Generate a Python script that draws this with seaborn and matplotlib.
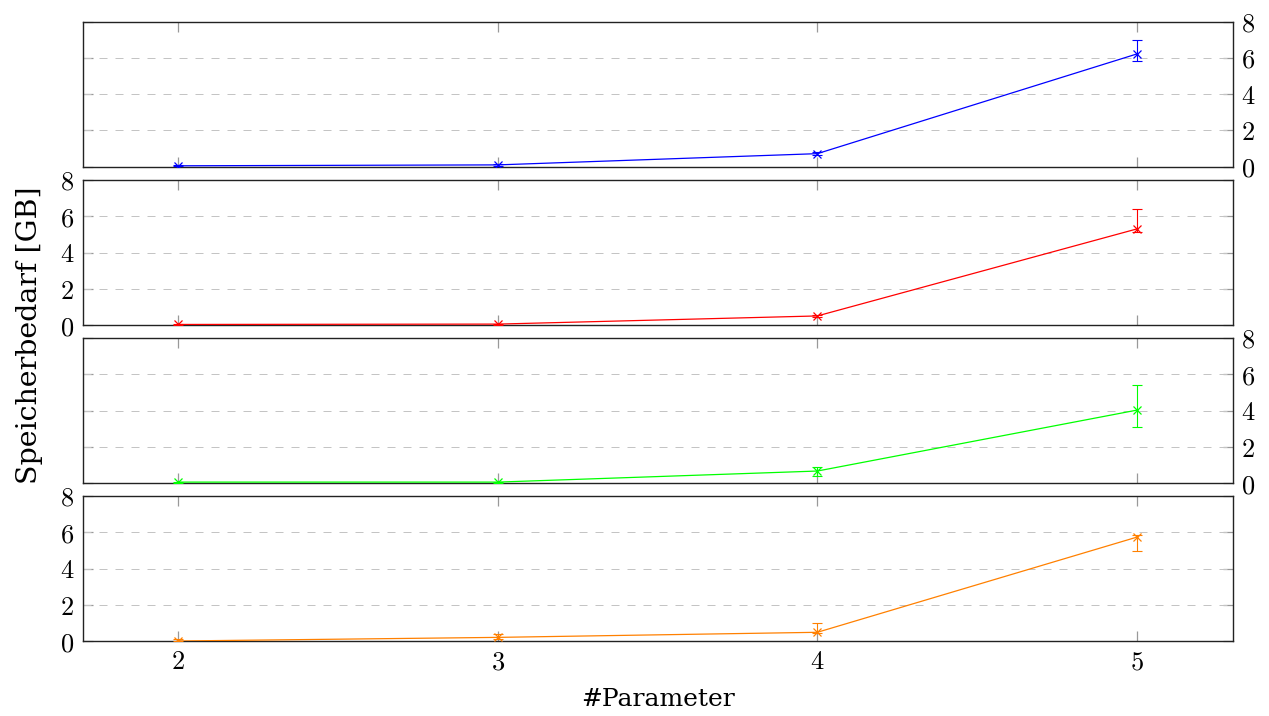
import matplotlib
matplotlib.use("Agg")
import matplotlib.pyplot as plt
from matplotlib.ticker import FuncFormatter, FixedLocator
import numpy as np
import pandas as pd
import seaborn as sns

sns.set_theme(style="white")
plt.rcParams["mathtext.fontset"] = "cm"
plt.rcParams["font.family"] = ["DejaVu Serif"]
plt.rcParams["text.color"] = "black"
plt.rcParams["xtick.labelcolor"] = "black"
plt.rcParams["ytick.labelcolor"] = "black"

# Number of parameters on the x axis
params = [2, 3, 4, 5]

# Memory demand in GB per configuration (mean, lower / upper deviation)
blue_mean = [0.05, 0.10, 0.72, 6.22]
blue_lo = [0.03, 0.05, 0.10, 0.40]
blue_hi = [0.03, 0.05, 0.10, 0.78]

red_mean = [0.03, 0.05, 0.50, 5.30]
red_lo = [0.02, 0.03, 0.05, 0.18]
red_hi = [0.02, 0.03, 0.05, 1.09]

green_mean = [0.05, 0.05, 0.66, 4.02]
green_lo = [0.03, 0.03, 0.30, 0.94]
green_hi = [0.03, 0.03, 0.20, 1.39]

orange_mean = [0.00, 0.20, 0.48, 5.73]
orange_lo = [0.00, 0.10, 0.05, 0.77]
orange_hi = [0.10, 0.20, 0.53, 0.11]

y_ticks = [0, 2, 4, 6, 8]

series = [
    (blue_mean, blue_lo, blue_hi, "#0000ff", "right"),
    (red_mean, red_lo, red_hi, "#ff0000", "left"),
    (green_mean, green_lo, green_hi, "#00ff00", "right"),
    (orange_mean, orange_lo, orange_hi, "#ff8000", "left"),
]

W, H = 1269, 716
fig = plt.figure(figsize=(W / 100, H / 100), dpi=100)

left_px, right_px = 82.5, 1232.7
tops = [21.7, 180.0, 338.0, 496.0]
panel_h = 145.0

fmt = FuncFormatter(lambda v, p: f"${v:g}$")
axes = []
for i, (mean, lo, hi, color, side) in enumerate(series):
    top = tops[i]
    ax = fig.add_axes([left_px / W, 1 - (top + panel_h) / H,
                       (right_px - left_px) / W, panel_h / H])
    axes.append(ax)
    df = pd.DataFrame({"param": params, "mem": mean})
    ax.errorbar(params, mean, yerr=[lo, hi], fmt="none", ecolor=color,
                elinewidth=0.8, capsize=3.8, capthick=0.8, zorder=3)
    sns.lineplot(data=df, x="param", y="mem", ax=ax, color=color,
                 marker="x", markersize=6, markeredgewidth=0.9,
                 markeredgecolor=color, linewidth=0.9, zorder=4)
    ax.set_xlim(1.7, 5.3)
    ax.set_ylim(0, 8)
    ax.xaxis.set_major_locator(FixedLocator(params))
    ax.yaxis.set_major_locator(FixedLocator(y_ticks))
    ax.yaxis.set_major_formatter(fmt)
    ax.xaxis.set_major_formatter(fmt)
    for yv in y_ticks[1:-1]:
        ax.axhline(yv, color="#c4c4c4", lw=0.72, ls=(0, (8, 8)), zorder=1)
    for sp in ax.spines.values():
        sp.set_color("#222222")
        sp.set_linewidth(1.0)
        sp.set_visible(True)
    ax.tick_params(axis="both", which="major", direction="in", length=7,
                   width=0.9, color="#999999", labelsize=19, pad=6,
                   labelcolor="black",
                   top=True, bottom=True, left=True, right=True,
                   labeltop=False, labelbottom=(i == 3),
                   labelleft=(side == "left"), labelright=(side == "right"))
    ax.set_xlabel("")
    ax.set_ylabel("")

fig.text(30 / W, 1 - 335 / H, "Speicherbedarf [GB]", rotation=90,
         ha="center", va="center", fontsize=20.5, color="black")
fig.text((left_px + right_px) / 2 / W, 1 - 700 / H, "#Parameter",
         ha="center", va="center", fontsize=18, color="black")

fig.savefig("out.png", dpi=100)
